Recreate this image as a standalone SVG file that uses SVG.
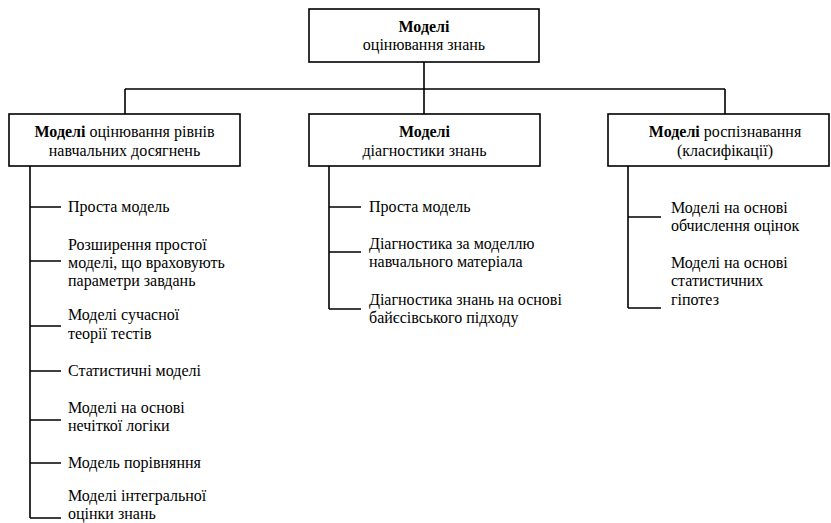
<svg xmlns="http://www.w3.org/2000/svg" width="831" height="523" viewBox="0 0 831 523" font-family="'Liberation Serif', 'Times New Roman', 'DejaVu Serif', serif">
<style>
.box{fill:#fff;stroke:#000;stroke-width:1.6}
.ln{stroke:#000;stroke-width:1.6;fill:none}
.t{font-family:'Liberation Serif','Times New Roman','DejaVu Serif',serif;font-size:16px;fill:#000}
.c{text-anchor:middle}
.b{font-weight:bold}
</style>
<rect width="831" height="523" fill="#fff"/>
<g id="connectors" class="ln">
<path d="M424 62V89M125 89H725M125 89V114M424 89V114M725 89V114"/>
<path d="M30 166V518M30 207H61M30 261H61M30 326H61M30 371H61M30 420H61M30 463H61M30 518H61"/>
<path d="M329 166V309M329 207H361M329 252H361M329 309H361"/>
<path d="M628 166V308M628 217H661M628 308H661"/>
</g>
<g class="t">
<g id="root">
<rect class="box" x="309" y="9" width="230" height="53"/>
<text class="c b" x="424" y="32">Моделі</text>
<text class="c" x="424" y="50">оцінювання знань</text>
</g>
<g id="n-levels">
<rect class="box" x="9" y="114" width="231" height="52"/>
<text class="c" x="124.5" y="137"><tspan class="b">Моделі</tspan> оцінювання рівнів</text>
<text class="c" x="124.5" y="156">навчальних досягнень</text>
</g>
<g id="n-diag">
<rect class="box" x="309" y="114" width="231" height="52"/>
<text class="c b" x="424.5" y="137">Моделі</text>
<text class="c" x="424.5" y="156">діагностики знань</text>
</g>
<g id="n-recog">
<rect class="box" x="608" y="114" width="221" height="52"/>
<text class="c" x="725" y="137"><tspan class="b">Моделі</tspan> роспізнавання</text>
<text class="c" x="725" y="156">(класифікації)</text>
</g>
<g id="l1"><text x="68" y="212">Проста модель</text></g>
<g id="l2"><text x="68" y="250">Розширення простої</text><text x="68" y="268">моделі, що враховують</text><text x="68" y="286">параметри завдань</text></g>
<g id="l3"><text x="68" y="320">Моделі сучасної</text><text x="68" y="339">теорії тестів</text></g>
<g id="l4"><text x="68" y="376">Статистичні моделі</text></g>
<g id="l5"><text x="68" y="413">Моделі на основі</text><text x="68" y="431">нечіткої логіки</text></g>
<g id="l6"><text x="68" y="468">Модель порівняння</text></g>
<g id="l7"><text x="68" y="501">Моделі інтегральної</text><text x="68" y="519">оцінки знань</text></g>
<g id="m1"><text x="369" y="212">Проста модель</text></g>
<g id="m2"><text x="369" y="249">Діагностика за моделлю</text><text x="369" y="267">навчального матеріала</text></g>
<g id="m3"><text x="369" y="305">Діагностика знань на основі</text><text x="369" y="323">байєсівського підходу</text></g>
<g id="r1"><text x="671" y="213">Моделі на основі</text><text x="671" y="231">обчислення оцінок</text></g>
<g id="r2"><text x="671" y="268">Моделі на основі</text><text x="671" y="286">статистичних</text><text x="671" y="305">гіпотез</text></g>
</g>
</svg>
